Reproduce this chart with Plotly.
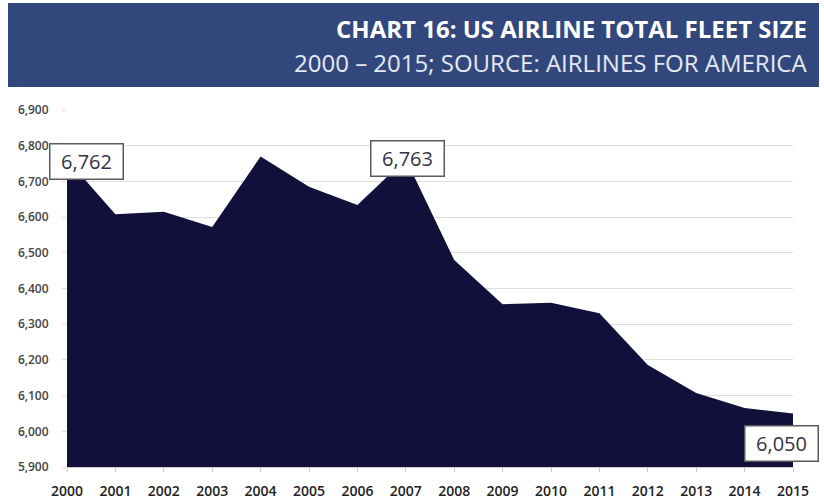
import plotly.graph_objects as go

# US airline total fleet size, 2000-2015 (Airlines for America)
years = list(range(2000, 2016))
fleet = [6762, 6608, 6615, 6572, 6770, 6685, 6634, 6763,
         6480, 6356, 6360, 6331, 6186, 6107, 6065, 6050]
y_ticks = list(range(5900, 7000, 100))
y_tick_labels = [f"{v:,}" for v in y_ticks]
callouts = [(2000, 6762), (2007, 6763), (2015, 6050)]

title_text = "CHART 16: US AIRLINE TOTAL FLEET SIZE"
subtitle_text = "2000 \u2013 2015; SOURCE: AIRLINES FOR AMERICA"

W, H = 824, 503
M_L, M_R, M_T, M_B = 67, 31, 110, 36
PW, PH = W - M_L - M_R, H - M_T - M_B


def paper_x(px):
    return (px - M_L) / PW


def paper_y(py):
    return (H - py - M_B) / PH


fig = go.Figure()
fig.add_trace(go.Scatter(
    x=years, y=fleet, mode="lines", fill="tozeroy",
    line=dict(color="#10103a", width=0),
    fillcolor="#10103a", hoverinfo="x+y", showlegend=False,
))

# header band
fig.add_shape(type="rect", xref="paper", yref="paper",
              x0=paper_x(8), x1=paper_x(819), y0=paper_y(87), y1=paper_y(3),
              fillcolor="#32487d", line=dict(width=0), layer="above")
fig.add_annotation(xref="paper", yref="paper", x=paper_x(809), y=paper_y(29),
                   text=title_text, showarrow=False, xanchor="right", yanchor="middle",
                   font=dict(family="Open Sans", size=24, color="white", weight=700))
fig.add_annotation(xref="paper", yref="paper", x=paper_x(809), y=paper_y(62),
                   text=subtitle_text, showarrow=False, xanchor="right", yanchor="middle",
                   font=dict(family="Open Sans", size=24, color="#e6e9f2"))

# value callouts
offsets = {2000: (19, -2), 2007: (2, 0), 2015: (-12, -30)}
for yr, val in callouts:
    dx, dy = offsets[yr]
    fig.add_annotation(x=yr, y=val, text=f"{val:,}", showarrow=False,
                       xshift=dx, yshift=dy, xanchor="center", yanchor="middle",
                       bgcolor="white", bordercolor="#5a5a5a", borderwidth=1.5,
                       borderpad=3, width=66, height=28,
                       font=dict(family="Open Sans", size=20, color="#333344"))

fig.update_layout(
    width=W, height=H,
    margin=dict(l=M_L, r=M_R, t=M_T, b=M_B, autoexpand=False),
    paper_bgcolor="white", plot_bgcolor="white",
    xaxis=dict(range=[2000, 2015], tickmode="array", tickvals=years,
               ticktext=[str(y) for y in years], showgrid=False,
               ticks="outside", ticklen=4, tickcolor="#cccccc",
               showline=True, linecolor="#cccccc", linewidth=1,
               ticklabelstandoff=7, automargin=False,
               tickfont=dict(family="Open Sans", size=14, color="#222222", weight=600),
               zeroline=False, fixedrange=True),
    yaxis=dict(range=[5900, 6900], tickmode="array", tickvals=y_ticks,
               ticktext=y_tick_labels, showgrid=True, gridcolor="#dddddd",
               gridwidth=1, ticks="outside", ticklen=4, tickcolor="#dddddd",
               ticklabelstandoff=11, automargin=False,
               tickfont=dict(family="Open Sans", size=12, color="#444444", weight=600),
               zeroline=False, showline=False, fixedrange=True),
)

fig.write_html("out.html")
